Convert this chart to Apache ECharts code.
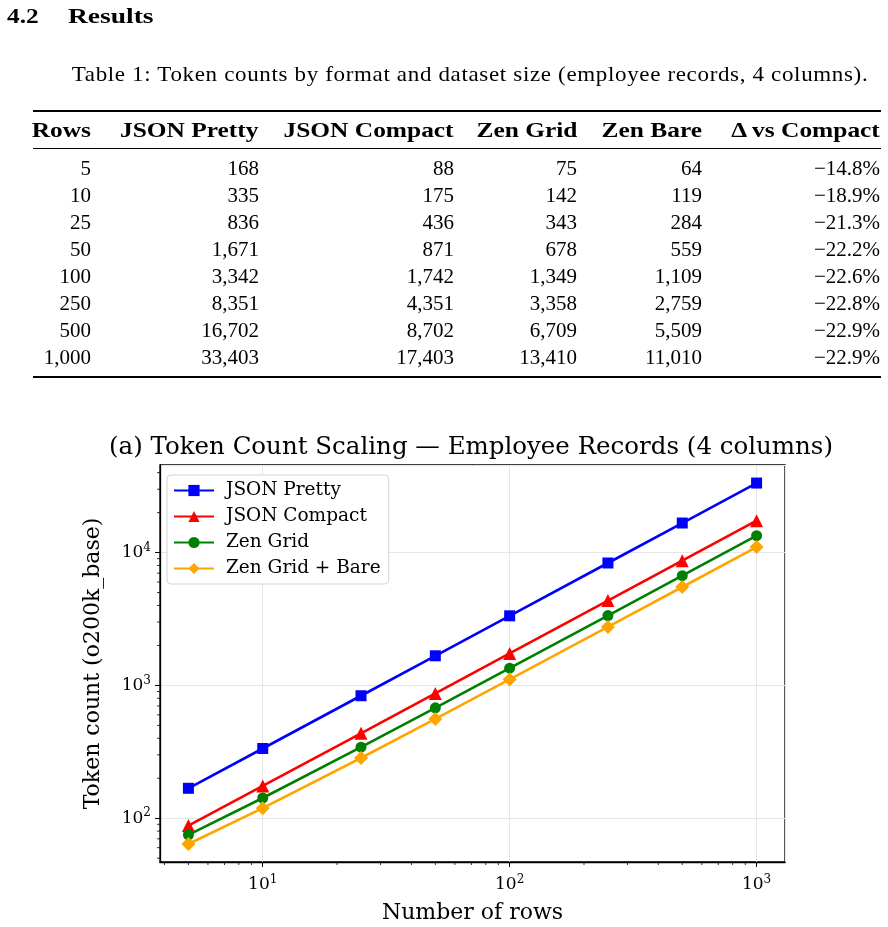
<!DOCTYPE html>
<html>
<head>
<meta charset="utf-8">
<script src="https://cdn.jsdelivr.net/npm/echarts@6/dist/echarts.min.js"></script>
<style>
  html, body { margin: 0; padding: 0; background: #fff; }
  #page { position: relative; width: 888px; height: 927px; overflow: hidden; }
  #chart { position: absolute; left: 0; top: 0; width: 888px; height: 927px; }
  .txt { position: absolute; font-family: 'Liberation Serif', serif; color: #000; white-space: nowrap; }
  .cell { position: absolute; font-family: 'Liberation Serif', serif; font-size: 21px; line-height: 24px; white-space: nowrap; color: #000; }
  .hd { font-weight: bold; transform: scaleX(1.21); transform-origin: right center; }
  .rule { position: absolute; left: 33px; width: 848px; background: #000; }
</style>
</head>
<body>
<div id="page">
  <div id="chart"></div>
  <div class="txt" style="left:7px; top:3px; font-size:22px; font-weight:bold; transform:scaleX(1.15); transform-origin:left center;">4.2</div>
  <div class="txt" style="left:68px; top:3px; font-size:22px; font-weight:bold; transform:scaleX(1.25); transform-origin:left center;">Results</div>
  <div class="txt" id="caption" style="left:470px; top:62px; font-size:21px; letter-spacing:0.6px; transform:translateX(-50%) scaleX(1.095);">Table 1: Token counts by format and dataset size (employee records, 4 columns).</div>
  <div class="rule" style="top:110px; height:2px;"></div>
  <div class="rule" style="top:148px; height:1px;"></div>
  <div class="rule" style="top:376px; height:2px;"></div>
  <div id="table"></div>
</div>
<script>
// data (table 1 and figure a)
const rows = [5, 10, 25, 50, 100, 250, 500, 1000]
const jsonPretty = [168, 335, 836, 1671, 3342, 8351, 16702, 33403]
const jsonCompact = [88, 175, 436, 871, 1742, 4351, 8702, 17403]
const zenGrid = [75, 142, 343, 678, 1349, 3358, 6709, 13410]
const zenBare = [64, 119, 284, 559, 1109, 2759, 5509, 11010]
const deltaVsCompact = [-14.8, -18.9, -21.3, -22.2, -22.6, -22.8, -22.9, -22.9]
const headers = ['Rows', 'JSON Pretty', 'JSON Compact', 'Zen Grid', 'Zen Bare', 'Δ vs Compact']
const seriesNames = ['JSON Pretty', 'JSON Compact', 'Zen Grid', 'Zen Grid + Bare']
// minor tick positions of the log axes
const xMinorTicks = [4, 5, 6, 7, 8, 9, 20, 30, 40, 50, 60, 70, 80, 90, 200, 300, 400, 500, 600, 700, 800, 900]
const yMinorTicks = [50, 60, 70, 80, 90, 200, 300, 400, 500, 600, 700, 800, 900,
  2000, 3000, 4000, 5000, 6000, 7000, 8000, 9000, 20000, 30000, 40000]

// ---- table ----
const fmt = v => v.toLocaleString('en-US')
const colRight = [91, 259, 454, 577, 702, 880]
const table = document.getElementById('table')
const addCell = (text, col, cy, cls) => {
  const d = document.createElement('div')
  d.className = 'cell' + (cls ? ' ' + cls : '')
  d.textContent = text
  d.style.right = (888 - colRight[col]) + 'px'
  d.style.top = (cy - 12) + 'px'
  table.appendChild(d)
}
headers.forEach((h, i) => addCell(h, i, 130, 'hd'))
rows.forEach((r, i) => {
  const cy = 168 + i * 27
  const vals = [fmt(r), fmt(jsonPretty[i]), fmt(jsonCompact[i]), fmt(zenGrid[i]), fmt(zenBare[i]),
    '\u2212' + Math.abs(deltaVsCompact[i]).toFixed(1) + '%']
  vals.forEach((v, c) => addCell(v, c, cy))
})

// ---- chart ----
const font = 'DejaVu Serif'
const logPad = (lo, hi) => {
  const a = Math.log10(lo), b = Math.log10(hi), m = (b - a) * 0.05
  return [Math.pow(10, a - m), Math.pow(10, b + m)]
}
const allY = jsonPretty.concat(jsonCompact, zenGrid, zenBare)
const [xMin, xMax] = logPad(Math.min(...rows), Math.max(...rows))
const [yMin, yMax] = logPad(Math.min(...allY), Math.max(...allY))

const powLabel = v => {
  const e = Math.round(Math.log10(v))
  if (Math.abs(Math.log10(v) - e) > 1e-6) return ''
  return '{b|10}{s|' + e + '}'
}
const rich = {
  b: { fontFamily: font, fontSize: 17, color: '#000' },
  s: { fontFamily: font, fontSize: 12, color: '#000', padding: [0, 0, 10, 0] }
}
const xTickLabel = { formatter: powLabel, rich, fontFamily: font, fontSize: 17, color: '#000', margin: 12, showMinLabel: false, showMaxLabel: false }
const yTickLabel = { formatter: powLabel, rich, fontFamily: font, fontSize: 17, color: '#000', margin: 9, showMinLabel: false, showMaxLabel: false }
const toPairs = ys => rows.map((x, i) => [x, ys[i]])
const lineSeries = (name, ys, color, symbol, size) => ({
  name,
  type: 'line',
  data: toPairs(ys),
  symbol,
  symbolSize: size,
  showAllSymbol: true,
  lineStyle: { color, width: 2.6 },
  itemStyle: { color },
  emphasis: { disabled: true },
  z: 3
})
const minorData = xMinorTicks.map(v => [v, yMin, 0]).concat(yMinorTicks.map(v => [xMin, v, 1]))

const chart = echarts.init(document.getElementById('chart'), null, { renderer: 'canvas' })
const option = {
  backgroundColor: '#fff',
  animation: false,
  title: {
    text: '(a) Token Count Scaling \u2014 Employee Records (4 columns)',
    left: 466,
    top: 430,
    textAlign: 'center',
    textStyle: { fontFamily: font, fontSize: 24.5, fontWeight: 'normal', color: '#000' }
  },
  grid: {
    left: 160,
    right: 103,
    top: 465,
    bottom: 65,
    show: true,
    borderColor: '#000',
    borderWidth: 1.3,
    backgroundColor: 'transparent'
  },
  legend: {
    data: seriesNames,
    orient: 'vertical',
    left: 167,
    top: 475,
    itemWidth: 40,
    itemHeight: 14,
    itemGap: 7,
    padding: [6, 8, 6, 6],
    backgroundColor: '#fff',
    borderColor: '#d4d4d4',
    borderWidth: 1,
    borderRadius: 4,
    textStyle: { fontFamily: font, fontSize: 18.5, color: '#000', padding: [0, 0, 0, 7] }
  },
  xAxis: {
    type: 'log',
    logBase: 10,
    min: xMin,
    max: xMax,
    name: 'Number of rows',
    nameLocation: 'middle',
    nameGap: 40,
    nameTextStyle: { fontFamily: font, fontSize: 22, color: '#000' },
    axisLine: { lineStyle: { color: '#000', width: 1.3 } },
    axisTick: { length: 5, lineStyle: { color: '#000', width: 1 } },
    axisLabel: xTickLabel,
    splitLine: { show: true, lineStyle: { color: '#e6e6e6', width: 1 } }
  },
  yAxis: {
    type: 'log',
    logBase: 10,
    min: yMin,
    max: yMax,
    name: 'Token count (o200k_base)',
    nameLocation: 'middle',
    nameGap: 56,
    nameTextStyle: { fontFamily: font, fontSize: 22, color: '#000' },
    axisLine: { lineStyle: { color: '#000', width: 1.3 } },
    axisTick: { length: 5, lineStyle: { color: '#000', width: 1 } },
    axisLabel: yTickLabel,
    splitLine: { show: true, lineStyle: { color: '#e6e6e6', width: 1 } }
  },
  series: [
    lineSeries(seriesNames[0], jsonPretty, '#0000ff', 'rect', 11),
    lineSeries(seriesNames[1], jsonCompact, '#ff0000', 'triangle', 13),
    lineSeries(seriesNames[2], zenGrid, '#008000', 'circle', 11),
    lineSeries(seriesNames[3], zenBare, '#ffa500', 'diamond', 14),
    {
      type: 'custom',
      silent: true,
      clip: false,
      data: minorData,
      renderItem: (params, api) => {
        const p = api.coord([api.value(0), api.value(1)])
        const vertical = api.value(2) === 0
        return {
          type: 'line',
          shape: vertical
            ? { x1: p[0], y1: p[1], x2: p[0], y2: p[1] + 3 }
            : { x1: p[0], y1: p[1], x2: p[0] - 3, y2: p[1] },
          style: { stroke: '#000', lineWidth: 0.8 }
        }
      },
      z: 1
    }
  ]
}
option && chart.setOption(option)
</script>
</body>
</html>
